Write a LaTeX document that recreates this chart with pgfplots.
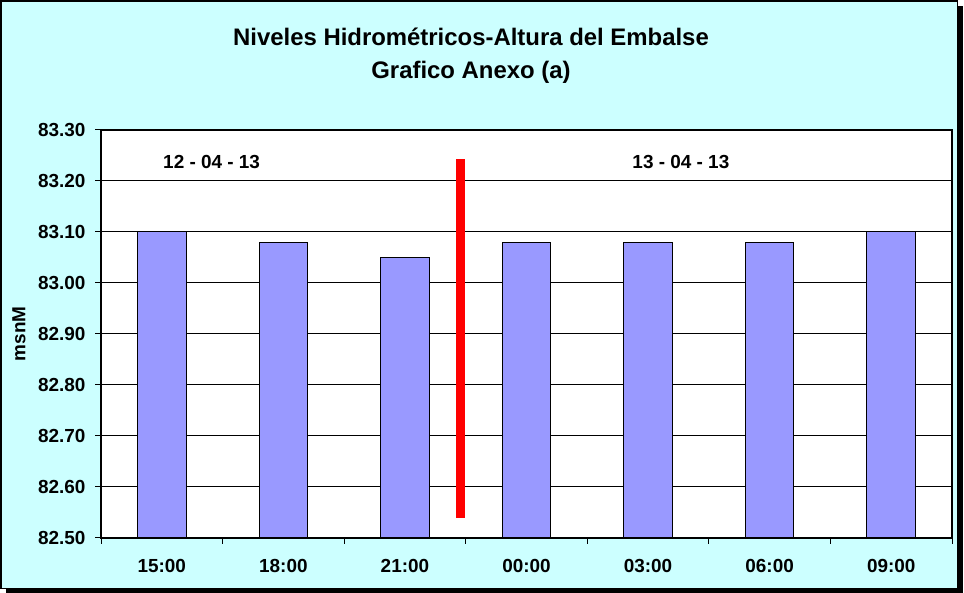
\documentclass[border=0pt]{standalone}
\usepackage{pgfplots}
\pgfplotsset{compat=1.18}
\usepackage{fontspec}
\setmainfont{Liberation Sans}
\definecolor{bgcyan}{HTML}{CCFFFF}
\definecolor{barblue}{HTML}{9999FF}
\begin{document}
\begin{tikzpicture}[x=1bp,y=1bp]
\useasboundingbox (0,0) rectangle (964,593);
% shadow and frame
\fill[black] (6,0) rectangle (963,587);
\filldraw[fill=bgcyan, draw=black, line width=1.5bp] (1,592) rectangle (957.5,4.5);
% titles
\node[font=\bfseries\fontsize{24}{24}\selectfont, anchor=base] at (471,547) {Niveles Hidrométricos-Altura del Embalse};
\node[font=\bfseries\fontsize{24}{24}\selectfont, anchor=base] at (471,514) {Grafico Anexo (a)};
\begin{axis}[
  at={(101bp,55bp)}, anchor=south west,
  scale only axis, width=851bp, height=408bp,
  xmin=-0.5, xmax=6.5, ymin=82.5, ymax=83.3,
  axis background/.style={fill=white},
  axis line style={line width=1.5bp},
  xtick={-0.5,0.5,...,6.5}, xticklabels={},
  extra x ticks={0,1,2,3,4,5,6},
  extra x tick labels={15:00,18:00,21:00,00:00,03:00,06:00,09:00},
  extra x tick style={major tick length=0pt, xticklabel style={yshift=-18bp}},
  ytick={82.5,82.6,82.7,82.8,82.9,83.0,83.1,83.2,83.3},
  /pgf/number format/fixed,
  /pgf/number format/fixed zerofill,
  /pgf/number format/precision=2,
  /pgf/number format/assume math mode=true,
  ticklabel style={font=\bfseries\fontsize{19}{19}\selectfont},
  yticklabel style={xshift=-6bp},
  tick align=outside, tick pos=left,
  major tick length=6bp,
  tick style={black, line width=1bp},
  ymajorgrids, grid style={black, line width=1bp},
  ylabel={msnM},
  ylabel style={at={(axis description cs:0,0.5)}, anchor=center, yshift=82bp, font=\bfseries\fontsize{19}{19}\selectfont},
  clip=true,
]
\addplot[ybar, bar width=0.4, fill=barblue, draw=black, line width=1bp] coordinates {
  (0,83.10) (1,83.08) (2,83.05) (3,83.08) (4,83.08) (5,83.08) (6,83.10)
};
\addplot[red, line width=9bp, sharp plot, mark=none, line cap=butt] coordinates {
  (2.46,82.54) (2.46,83.244)
};
\node[font=\bfseries\fontsize{19}{19}\selectfont] at (axis cs:0.41,83.237) {12 - 04 - 13};
\node[font=\bfseries\fontsize{19}{19}\selectfont] at (axis cs:4.27,83.237) {13 - 04 - 13};
\end{axis}
\end{tikzpicture}
\end{document}
